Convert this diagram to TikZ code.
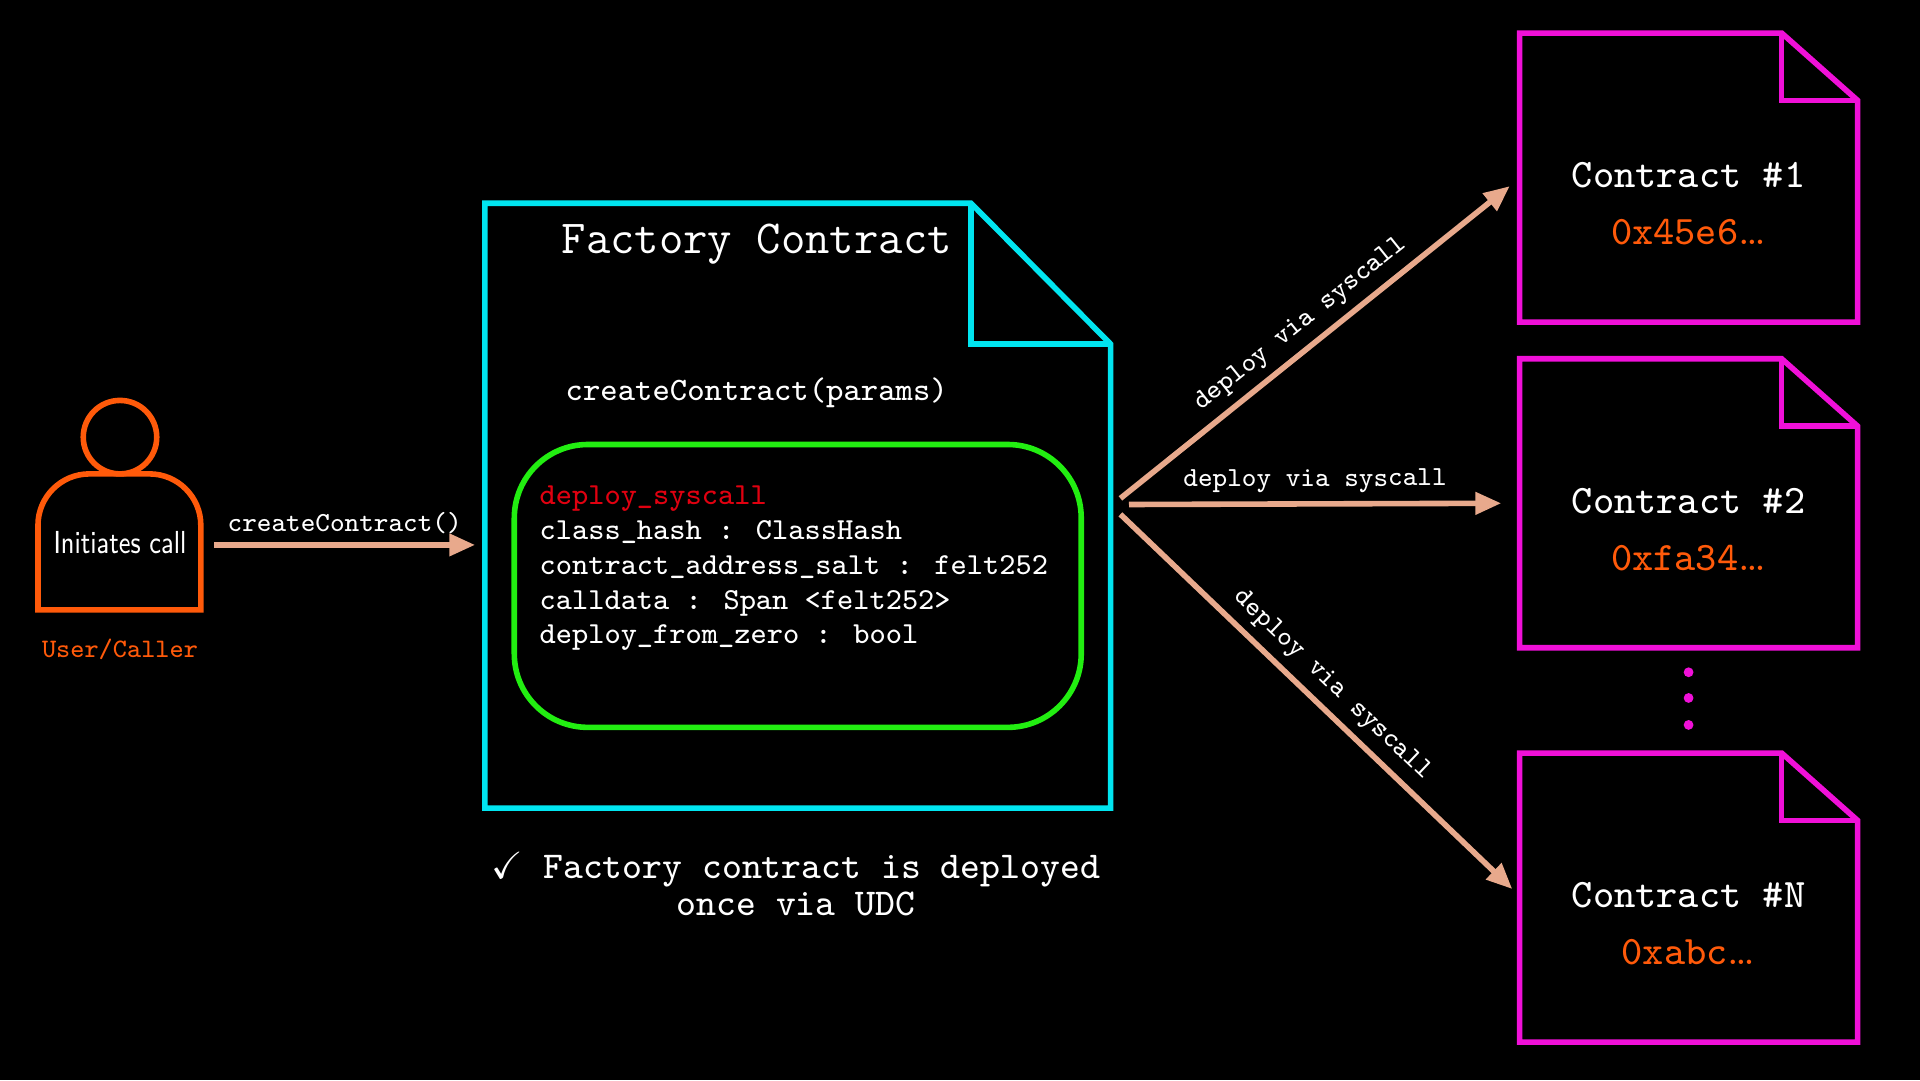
\documentclass[tikz,border=0pt]{standalone}
\usepackage{amssymb}
\usetikzlibrary{arrows.meta,positioning}
\definecolor{peach}{HTML}{E8A98C}
\definecolor{cyanline}{HTML}{00E5F0}
\definecolor{greenline}{HTML}{22EE11}
\definecolor{magline}{HTML}{F010D8}
\definecolor{orangeline}{HTML}{FF5A0A}
\definecolor{redtext}{HTML}{E00010}
\newcommand{\fs}[1]{\fontsize{#1}{#1}\selectfont}
\tikzset{
  txt/.style={text=white,font=\ttfamily\fs{7.6pt},inner sep=0pt},
  flow/.style={peach,line width=1.3pt,-{Triangle[length=6pt,width=5pt]}},
  lbl/.style={txt,font=\ttfamily\fs{6.4pt},sloped,above=2pt},
}
\newcommand{\contract}[4]{% top y, name, address, node name
  \draw[magline,line width=1.3pt] (12.41,#1) -- (14.55,#1) -- (15.17,#1-0.55) -- (15.17,#1-2.36) -- (12.41,#1-2.36) -- cycle;
  \draw[magline,line width=1.3pt] (14.55,#1) -- (14.55,#1-0.55) -- (15.17,#1-0.55);
  \node[txt,font=\ttfamily\fs{9.4pt}] (#4) at (13.79,#1-1.16) {#2};
  \node[txt,font=\ttfamily\fs{9.4pt},text=orangeline,below=0.24 of #4] {#3\textrm{\ldots}};
}
\begin{document}
\begin{tikzpicture}
  \fill[black] (0,0) rectangle (15.68,8.82);
  % user
  \draw[orangeline,line width=1.3pt] (0.98,5.25) circle (0.30);
  \draw[orangeline,line width=1.3pt] (0.31,3.84) [rounded corners=0.42cm] -- (0.31,4.95) -- (1.64,4.95) [sharp corners] -- (1.64,3.84) -- cycle;
  \node[txt,font=\sffamily\fs{7.4pt}] (user) at (0.98,4.39) {\scalebox{0.78}[1]{Initiates call}};
  \node[txt,font=\ttfamily\fs{6.2pt},text=orangeline] (userlbl) at (0.98,3.52) {User/Caller};
  % factory
  \draw[cyanline,line width=1.3pt] (3.96,7.16) -- (7.93,7.16) -- (9.07,6.01) -- (9.07,2.22) -- (3.96,2.22) -- cycle;
  \draw[cyanline,line width=1.3pt] (7.93,7.16) -- (7.93,6.01) -- (9.07,6.01);
  \coordinate (fin) at (3.88,4.37);
  \node[txt,font=\ttfamily\fs{11pt}] (title) at (6.18,6.83) {Factory Contract};
  \node[txt] (fn) at (6.18,5.61) {createContract(params)};
  \draw[greenline,line width=1.3pt,rounded corners=0.6cm] (4.20,2.88) rectangle (8.83,5.19);
  \node[txt,anchor=north west,align=left,font=\ttfamily\fontsize{7.1pt}{8.1pt}\selectfont] (sys) at (4.40,4.86) {{\color{redtext}deploy\_syscall}\\
    class\_hash : ClassHash\\contract\_address\_salt : felt252\\calldata : Span <felt252>\\deploy\_from\_zero : bool};
  \node[txt,font=\ttfamily\fontsize{8.8pt}{8.6pt}\selectfont,align=center] (note) at (6.50,1.60) {$\checkmark$ Factory contract is deployed\\once via UDC};
  % contracts
  \contract{8.55}{Contract \#1}{0x45e6}{c1}
  \contract{5.89}{Contract \#2}{0xfa34}{c2}
  \contract{2.67}{Contract \#N}{0xabc}{cn}
  \foreach \d in {3.33,3.12,2.90} \fill[magline] (13.79,\d) circle (0.04);
  % arrows
  \draw[flow] (1.75,4.37) -- node[txt,font=\ttfamily\fs{6.4pt},above=2pt] {createContract()} (fin);
  \coordinate (s1) at (9.15,4.75); \coordinate (e1) at (12.33,7.30);
  \coordinate (s2) at (9.22,4.70); \coordinate (e2) at (12.26,4.71);
  \coordinate (s3) at (9.15,4.62); \coordinate (e3) at (12.35,1.56);
  \draw[flow] (s1) -- node[lbl] {deploy via syscall} (e1);
  \draw[flow] (s2) -- node[lbl] {deploy via syscall} (e2);
  \draw[flow] (s3) -- node[lbl] {deploy via syscall} (e3);
\end{tikzpicture}
\end{document}
